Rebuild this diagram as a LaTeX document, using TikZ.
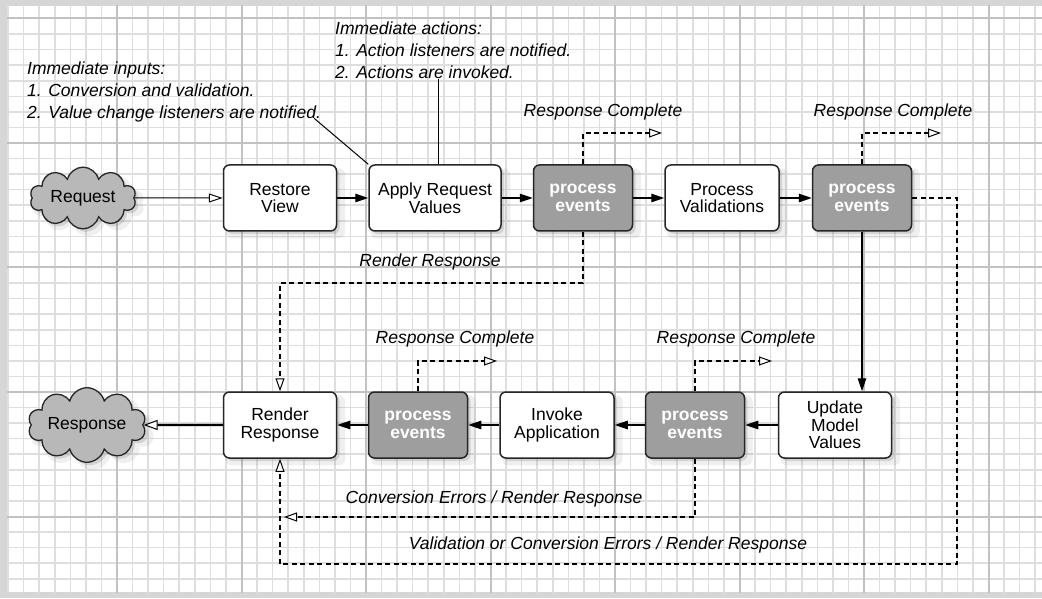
\documentclass[tikz,border=0pt]{standalone}
\usepackage{fontspec}
\setmainfont{Liberation Sans}
\usetikzlibrary{arrows.meta,positioning,shapes.symbols,shadows}

\begin{document}
\begin{tikzpicture}[x=1pt,y=1pt,
  shd/.style={drop shadow={shadow xshift=5pt,shadow yshift=-5pt,opacity=.12,shadow scale=1.06},drop shadow={shadow xshift=3pt,shadow yshift=-3pt,opacity=.25}},
  box/.style={draw=black!85,line width=1.5pt,rounded corners=6pt,fill=white,align=center,font=\fontsize{17.5}{17.5}\selectfont,minimum width=113pt,minimum height=66pt,inner sep=2pt,shd},
  evt/.style={box,fill=black!38,text=white,font=\bfseries\fontsize{17.5}{17.5}\selectfont,minimum width=99pt},
  cld/.style={cloud,cloud puffs=10,aspect=2.2,draw=black!85,line width=1.3pt,fill=black!28,font=\fontsize{17.5}{17.5}\selectfont,minimum width=106pt,minimum height=52pt,inner sep=0pt,shd},
  lbl/.style={font=\itshape\fontsize{17.5}{22}\selectfont,inner sep=0pt,align=left},
  flow/.style={line width=1.2pt,-{Triangle[length=13pt,width=8.5pt]}},
  jump/.style={line width=1.1pt,dash pattern=on 5pt off 3.5pt,-{Triangle[open,fill=white,length=13pt,width=9pt,line width=1pt]}},
  note/.style={line width=1pt},
  minor/.style={black!13,line width=1.6pt},
  major/.style={black!24,line width=2pt}]
\useasboundingbox (0,0) rectangle (1042,598);
\fill[black!16] (0,0) rectangle (1042,598);
\fill[white] (7,6) rectangle (1042,592);
\begin{scope}
\clip (7,6) rectangle (1042,592);
\begin{scope}[shift={(-7.5,-43)}]
\draw[minor] (0,0) grid[step=15.5625pt] (1100,660);
\draw[major] (0,0) grid[step=124.5pt] (1100,660);
\end{scope}
\end{scope}

\node[cld] (req) at (83,400) {Request};
\node[box] (rv) at (280,400) {Restore\\View};
\node[box,minimum width=132pt] (arv) at (435,400) {Apply Request\\Values};
\node[evt] (pe1) at (583,400) {process\\events};
\node[box,minimum width=114pt] (pv) at (722,400) {Process\\Validations};
\node[evt] (pe2) at (862,400) {process\\events};
\node[box] (umv) at (835,173) {Update\\Model\\Values};
\node[evt] (pe4) at (695,173) {process\\events};
\node[box,minimum width=114pt] (ia) at (557,173) {Invoke\\Application};
\node[evt] (pe3) at (418,173) {process\\events};
\node[box] (rr) at (280,173) {Render\\Response};
\node[cld,minimum width=107pt,minimum height=50pt] (resp) at (87,173) {Response};

\node[lbl,anchor=west] (inp) at (27,506) {Immediate inputs:\\1. Conversion and validation.\\2. Value change listeners are notified.};
\node[lbl,anchor=west] (act) at (335,548) {Immediate actions:\\1. Action listeners are notified.\\2. Actions are invoked.};
\node[lbl] (l1) at (603,486) {Response Complete};
\node[lbl] (l2) at (893,486) {Response Complete};
\node[lbl] (l3) at (430,336) {Render Response};
\node[lbl] (l4) at (455,259) {Response Complete};
\node[lbl] (l5) at (736,259) {Response Complete};
\node[lbl] (l6) at (494,99) {Conversion Errors / Render Response};
\node[lbl] (l7) at (608,53) {Validation or Conversion Errors / Render Response};

\coordinate (c1) at (662,465); \coordinate (c2) at (941,465);
\coordinate (c3) at (497,237); \coordinate (c4) at (772,237);
\coordinate (c5) at (284,81); \coordinate (k1) at (0,315); \coordinate (k2) at (957,34);

\draw[line width=1pt,-{Triangle[open,fill=white,length=14pt,width=9pt]}] (req) -- (rv);
\draw[flow] (rv) -- (arv); \draw[flow] (arv) -- (pe1); \draw[flow] (pe1) -- (pv); \draw[flow] (pv) -- (pe2);
\draw[flow] (pe2.south) -- (pe2.south |- umv.north);
\draw[flow] (umv) -- (pe4); \draw[flow] (pe4) -- (ia); \draw[flow] (ia) -- (pe3); \draw[flow] (pe3) -- (rr);
\draw[line width=2.2pt,-{Triangle[open,fill=white,length=14pt,width=10pt,line width=1pt]}] (rr) -- (resp);

\draw[jump] (pe1.north) |- (c1); \draw[jump] (pe2.north) |- (c2);
\draw[jump] (pe3.north) |- (c3); \draw[jump] (pe4.north) |- (c4);
\draw[jump] (pe1.south) -- (pe1.south |- k1) -| (rr.north);
\draw[jump] (pe2.east) -| (k2) -| (rr.south);
\draw[jump] (pe4.south) |- (c5);

\draw[note] ([xshift=-7pt,yshift=4pt]inp.south east) -- (arv.north west);
\draw[note] ([xshift=3pt]arv.north |- act.south) -- ([xshift=3pt]arv.north);
\end{tikzpicture}
\end{document}
